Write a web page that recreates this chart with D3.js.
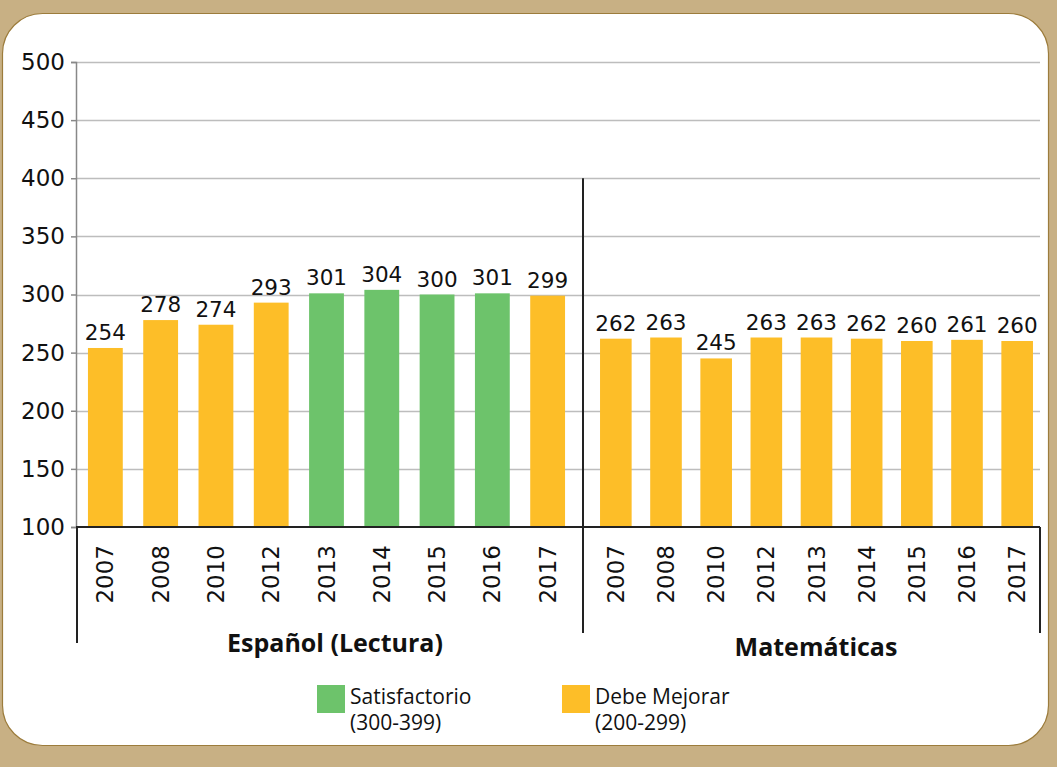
<!DOCTYPE html>
<html>
<head>
<meta charset="utf-8">
<style>
  body { margin: 0; background: #c8b084; }
  svg { display: block; }
  text { font-family: "Open Sans", sans-serif; fill: #111; }
  .num { font-family: "DejaVu Sans", sans-serif; }
</style>
</head>
<body>
<script src="https://cdn.jsdelivr.net/npm/d3@7"></script>
<script>
// datos
var years = ["2007", "2008", "2010", "2012", "2013", "2014", "2015", "2016", "2017"];
var espanol = [254, 278, 274, 293, 301, 304, 300, 301, 299];
var matematicas = [262, 263, 245, 263, 263, 262, 260, 261, 260];
var subjects = ["Español (Lectura)", "Matemáticas"];
var yTicks = [100, 150, 200, 250, 300, 350, 400, 450, 500];
var levels = ["Satisfactorio", "Debe Mejorar"];
var levelRanges = ["(300-399)", "(200-299)"];
var levelColors = ["#6dc36b", "#fdbe28"];

var width = 1057, height = 767;

var svg = d3.select("body").append("svg")
    .attr("width", width)
    .attr("height", height);

// panel blanco
svg.append("rect")
    .attr("x", 2.5).attr("y", 13.5)
    .attr("width", 1046).attr("height", 732)
    .attr("rx", 40).attr("ry", 40)
    .attr("fill", "#fff")
    .attr("stroke", "#9c7c3c")
    .attr("stroke-width", 1.2);

var y = d3.scaleLinear().domain([100, 500]).range([527, 62]);
var color = d3.scaleThreshold().domain([300]).range([levelColors[1], levelColors[0]]);

var left = 76, mid = 583, right = 1040;

// grid
svg.append("g")
    .selectAll("line")
    .data(yTicks.filter(d => d > 100))
    .join("line")
    .attr("x1", left).attr("x2", right)
    .attr("y1", d => Math.round(y(d)) + 0.5)
    .attr("y2", d => Math.round(y(d)) + 0.5)
    .attr("stroke", "#bdbdbd")
    .attr("stroke-width", 1.5);

// eje y
var yAxis = svg.append("g")
    .attr("transform", `translate(${left},0)`)
    .call(d3.axisLeft(y).tickValues(yTicks).tickSize(5).tickPadding(6));
yAxis.select(".domain").attr("stroke", "#888").attr("stroke-width", 1.5);
yAxis.selectAll(".tick line").attr("stroke", "#888").attr("stroke-width", 1.5);
yAxis.selectAll(".tick text")
    .attr("class", "num")
    .attr("font-size", 23)
    .attr("font-family", "'DejaVu Sans', sans-serif")
    .attr("fill", "#111");

var groups = [
    { name: subjects[0], values: espanol, range: [78, 575], cx: 335, ty: 652 },
    { name: subjects[1], values: matematicas, range: [591, 1042], cx: 816, ty: 656 }
];

groups.forEach(function (grp) {
    var x = d3.scaleBand().domain(years).range(grp.range).paddingInner(0.37).paddingOuter(0.18);
    var data = years.map((yr, i) => ({ year: yr, value: grp.values[i] }));
    var g = svg.append("g");

    g.selectAll("rect")
        .data(data)
        .join("rect")
        .attr("x", d => x(d.year))
        .attr("width", x.bandwidth())
        .attr("y", d => y(d.value))
        .attr("height", d => y(100) - y(d.value))
        .attr("fill", d => color(d.value));

    g.selectAll("text.val")
        .data(data)
        .join("text")
        .attr("class", "val num")
        .attr("x", d => x(d.year) + x.bandwidth() / 2)
        .attr("y", d => y(d.value) - 8)
        .attr("text-anchor", "middle")
        .attr("font-size", 21.5)
        .text(d => d.value);

    g.selectAll("text.yr")
        .data(data)
        .join("text")
        .attr("class", "yr num")
        .attr("transform", d => `translate(${x(d.year) + x.bandwidth() / 2 + 8},545) rotate(-90)`)
        .attr("text-anchor", "end")
        .attr("font-size", 23)
        .text(d => d.year);

    g.append("text")
        .attr("x", grp.cx)
        .attr("y", grp.ty)
        .attr("text-anchor", "middle")
        .attr("font-size", 25)
        .attr("font-weight", "bold")
        .text(grp.name);
});

// eje x y separadores
var axisG = svg.append("g").attr("stroke", "#222").attr("stroke-width", 2);
axisG.append("line").attr("x1", left).attr("x2", right).attr("y1", y(100)).attr("y2", y(100));
axisG.append("line").attr("x1", left + 1).attr("x2", left + 1).attr("y1", y(100)).attr("y2", 643);
axisG.append("line").attr("x1", mid).attr("x2", mid).attr("y1", y(400)).attr("y2", 633);
axisG.append("line").attr("x1", right).attr("x2", right).attr("y1", y(100)).attr("y2", 633);

// leyenda
var legend = svg.append("g")
    .selectAll("g")
    .data(levels)
    .join("g")
    .attr("transform", (d, i) => `translate(${[317, 562][i]},685)`);
legend.append("rect")
    .attr("width", 28).attr("height", 28)
    .attr("fill", (d, i) => levelColors[i]);
legend.append("text")
    .attr("x", 33).attr("y", 19)
    .attr("font-size", 21)
    .attr("fill", "#333")
    .text(d => d);
legend.append("text")
    .attr("x", 33).attr("y", 45)
    .attr("font-size", 21)
    .attr("fill", "#333")
    .text((d, i) => levelRanges[i]);
</script>
</body>
</html>
